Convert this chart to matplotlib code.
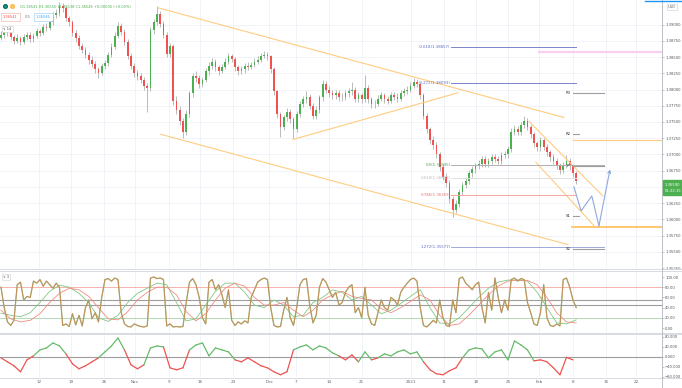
import numpy as np
import matplotlib
matplotlib.use("Agg")
import matplotlib.pyplot as plt
from matplotlib.lines import Line2D
from matplotlib.patches import Rectangle

plt.rcParams['font.family'] = ['DejaVu Sans']

# ---------------- data ----------------
date_ticks = [11.7, 21.5, 31.7, 41.2, 51.7, 61.2, 71.4, 82.5, 90.8, 100.9, 111.0,
              126.2, 136.3, 146.2, 156.0, 165.5, 176.0, 186.2, 195.4]
date_labels = ["12", "19", "26", "Nov", "9", "16", "23", "Dec", "7", "14", "21",
               "2021", "11", "18", "25", "Feb", "8", "15", "22"]

price_ticks = [1.39000, 1.38750, 1.38500, 1.38250, 1.38000, 1.37750, 1.37500, 1.37250,
               1.37000, 1.36750, 1.36500, 1.36250, 1.36000, 1.35750, 1.35500, 1.35250]

open0 = 13880
close_pips = [13884, 13892, 13887, 13881, 13875, 13880, 13874, 13881, 13884, 13878,
              13883, 13890, 13887, 13897, 13895, 13904, 13915, 13918, 13929, 13926,
              13910, 13904, 13887, 13880, 13867, 13861, 13854, 13846, 13840, 13831,
              13826, 13837, 13841, 13854, 13866, 13883, 13898, 13889, 13874, 13852,
              13837, 13826, 13821, 13815, 13806, 13803, 13892, 13904, 13917, 13901,
              13884, 13855, 13867, 13782, 13769, 13751, 13735, 13763, 13794, 13821,
              13818, 13809, 13815, 13828, 13837, 13843, 13834, 13829, 13835, 13843,
              13851, 13847, 13834, 13828, 13831, 13837, 13835, 13838, 13843, 13846,
              13852, 13854, 13851, 13831, 13797, 13762, 13742, 13757, 13766, 13754,
              13739, 13763, 13778, 13785, 13789, 13775, 13760, 13769, 13788, 13809,
              13800, 13794, 13791, 13795, 13788, 13789, 13794, 13797, 13800, 13786,
              13791, 13785, 13803, 13785, 13778, 13778, 13786, 13791, 13785, 13783,
              13791, 13789, 13786, 13794, 13797, 13800, 13806, 13812, 13809, 13791,
              13760, 13739, 13723, 13714, 13700, 13680, 13666, 13656, 13631, 13614,
              13624, 13642, 13653, 13659, 13671, 13677, 13682, 13686, 13693, 13685,
              13690, 13696, 13693, 13690, 13699, 13700, 13708, 13735, 13739, 13735,
              13745, 13752, 13742, 13731, 13717, 13711, 13722, 13712, 13703, 13696,
              13690, 13683, 13676, 13683, 13690, 13682, 13671, 13659]
high_pips = [13890, 13897, 13896, 13890, 13884, 13885, 13883, 13886, 13889, 13888,
             13887, 13895, 13894, 13901, 13902, 13909, 13919, 13924, 13935, 13933,
             13929, 13914, 13907, 13891, 13884, 13871, 13866, 13858, 13851, 13844,
             13835, 13841, 13846, 13858, 13871, 13888, 13904, 13902, 13893, 13878,
             13856, 13841, 13830, 13825, 13819, 13810, 13896, 13909, 13929, 13921,
             13905, 13888, 13872, 13870, 13790, 13774, 13756, 13768, 13798, 13826,
             13828, 13822, 13820, 13833, 13842, 13849, 13847, 13838, 13840, 13848,
             13857, 13855, 13850, 13838, 13836, 13841, 13842, 13843, 13848, 13851,
             13857, 13859, 13858, 13853, 13834, 13800, 13766, 13761, 13772, 13770,
             13758, 13767, 13783, 13790, 13797, 13793, 13779, 13774, 13792, 13815,
             13813, 13805, 13799, 13800, 13799, 13794, 13799, 13802, 13812, 13804,
             13796, 13795, 13823, 13807, 13789, 13784, 13791, 13796, 13795, 13790,
             13796, 13796, 13794, 13799, 13802, 13805, 13811, 13818, 13816, 13812,
             13794, 13764, 13743, 13728, 13719, 13704, 13686, 13672, 13660, 13636,
             13630, 13647, 13658, 13665, 13676, 13682, 13687, 13692, 13698, 13697,
             13695, 13701, 13700, 13698, 13704, 13705, 13713, 13740, 13745, 13744,
             13750, 13759, 13756, 13746, 13735, 13721, 13727, 13726, 13716, 13707,
             13700, 13694, 13687, 13688, 13699, 13694, 13686, 13675]
low_pips = [13876, 13880, 13883, 13876, 13870, 13871, 13868, 13870, 13877, 13873,
            13874, 13880, 13882, 13884, 13890, 13891, 13900, 13910, 13914, 13920,
            13905, 13898, 13882, 13874, 13862, 13856, 13849, 13840, 13835, 13826,
            13818, 13822, 13832, 13837, 13850, 13862, 13879, 13884, 13869, 13847,
            13832, 13820, 13815, 13810, 13800, 13765, 13798, 13886, 13899, 13896,
            13879, 13850, 13850, 13776, 13763, 13745, 13726, 13730, 13758, 13789,
            13812, 13803, 13804, 13811, 13823, 13832, 13829, 13823, 13825, 13831,
            13839, 13842, 13829, 13822, 13824, 13826, 13830, 13831, 13834, 13839,
            13842, 13848, 13846, 13826, 13792, 13756, 13727, 13738, 13752, 13749,
            13726, 13734, 13758, 13773, 13780, 13770, 13755, 13755, 13764, 13783,
            13795, 13789, 13785, 13786, 13783, 13783, 13784, 13789, 13792, 13781,
            13781, 13779, 13781, 13780, 13772, 13772, 13774, 13782, 13780, 13778,
            13779, 13784, 13781, 13782, 13790, 13793, 13796, 13802, 13804, 13786,
            13755, 13733, 13716, 13708, 13694, 13674, 13660, 13650, 13625, 13604,
            13609, 13619, 13637, 13648, 13654, 13666, 13672, 13677, 13681, 13680,
            13680, 13685, 13688, 13685, 13686, 13694, 13695, 13704, 13730, 13730,
            13730, 13740, 13737, 13726, 13712, 13705, 13706, 13707, 13698, 13690,
            13685, 13677, 13670, 13671, 13679, 13676, 13665, 13654]

stoch_fast = [80, 40, 12, 5, 15, 85, 90, 55, 62, 60,
              92, 88, 95, 82, 92, 85, 78, 88, 80, 5,
              8, 3, 28, 6, 25, 4, 40, 55, 18, 30,
              12, 60, 95, 97, 92, 98, 95, 30, 8, 3,
              2, 8, 5, 3, 2, 4, 98, 100, 97, 98,
              95, 4, 8, 2, 3, 2, 3, 50, 90, 97,
              85, 60, 20, 8, 90, 95, 75, 85, 65, 40,
              75, 15, 5, 12, 8, 14, 10, 60, 75, 90,
              95, 98, 95, 40, 5, 2, 3, 35, 60, 20,
              5, 40, 85, 95, 97, 45, 10, 25, 80, 97,
              90, 75, 60, 70, 45, 50, 70, 80, 85, 30,
              40, 20, 80, 25, 8, 5, 30, 55, 40, 35,
              60, 55, 45, 70, 80, 88, 95, 98, 92, 40,
              5, 2, 8, 15, 10, 55, 20, 5, 3, 55,
              30, 97, 100, 88, 82, 75, 85, 90, 40, 10,
              70, 35, 98, 60, 30, 55, 35, 95, 98, 92,
              97, 95, 50, 30, 8, 5, 30, 85, 20, 5,
              3, 8, 4, 95, 98, 80, 55, 40]
slow_green = [29, 25, 22, 30, 50, 72, 84, 80, 68, 50,
              20, 13, 25, 50, 68, 78, 88, 85, 50, 14,
              18, 45, 72, 88, 88, 70, 45, 40, 55, 45,
              22, 25, 50, 60, 75, 70, 55, 62, 45, 28,
              35, 48, 62, 75, 40, 10, 8, 20, 40, 60,
              78, 90, 94, 94, 92, 70, 40, 10, 8, 16]
slow_red = [35, 18, 12, 15, 28, 50, 68, 78, 75, 62,
            40, 18, 16, 32, 55, 70, 80, 80, 65, 32,
            14, 28, 55, 78, 88, 82, 60, 45, 45, 50,
            35, 22, 35, 55, 65, 72, 62, 58, 55, 38,
            30, 40, 52, 65, 55, 25, 5, 8, 25, 45,
            65, 82, 92, 94, 93, 85, 60, 30, 12, 10]
momentum = [-4, -20, -36, -60, -12, 4, 28, 36, 56, 44,
            12, -28, -48, -36, -20, -4, 20, 44, 76, 28,
            -32, -48, -32, 36, 44, 40, -44, -52, -44, 28,
            48, 56, 4, 36, 28, 20, -12, -20, -4, -20,
            -36, -44, -60, -72, -60, 28, 40, 48, 28, 44,
            36, 16, 4, -12, 8, -20, 20, -12, -4, 12,
            4, 20, 28, 12, 20, -20, -52, -68, -72, -56,
            -44, -4, 28, 36, 32, -4, 20, 28, -12, 64,
            48, 28, -16, -12, -20, -44, -72, -2, -12]

# drawings (bar index, pips)
orange_lines = [((48.3, 13926), (173.2, 13757)),
                ((49.2, 13731), (174.5, 13561)),
                ((89.8, 13723), (140.6, 13795)),
                ((162.5, 13751), (185.2, 13636)),
                ((164.6, 13688), (182.5, 13590))]
orange_levels = [13723, 13588]
forecast = [(176.3, 13650), (178.5, 13613), (181.8, 13636), (184.0, 13590), (187.4, 13677)]
fib_zero, fib_one = 13765, 13602
fib_levels = [-0.618, -0.272, 0.5, 0.618, 0.786, 1.272]
fib_colors = ["#5c6bc0", "#5c6bc0", "#43a047", "#bdbdbd", "#e57373", "#5c6bc0"]
fib_line_colors = ["#7986cb", "#7986cb", "#b0b0b0", "#e0e0e0", "#f4a6a0", "#9fa8da"]
fib_ends = [176.9, 176.9, 185.5, 176.9, 176.9, 185.5]
pivot_names = ["R3", "R2", "P", "S1", "S2"]
pivot_pips = [13795, 13731, 13682, 13605, 13555]
pivot_ends = [185.5, 178.0, 185.5, 178.0, 185.5]
pink_level = 13858

# ---------------- figure ----------------
W, H = 682.0, 388.0
fig = plt.figure(figsize=(W / 100, H / 100), dpi=100)
fig.patch.set_facecolor("white")

def mk(top, bot):
    a = fig.add_axes([0, 1 - bot / H, 662 / W, (bot - top) / H])
    for s in a.spines.values():
        s.set_visible(False)
    a.set_xlim(-0.3, 203.4)
    a.set_xticks(date_ticks)
    a.grid(axis='x', color='#eef1f6', lw=0.6)
    a.set_facecolor('white')
    a.tick_params(left=False, bottom=False, labelleft=False, labelbottom=False,
                  right=True, labelright=True, length=1.2, width=0.4, color='#999999',
                  labelsize=2.7, labelcolor='#555555', pad=1.0)
    a.yaxis.tick_right()
    return a

ax = mk(0, 268)
axo = mk(271, 333)
axl = mk(335, 377)

# ---- main price panel ----
ax.set_ylim(1.35269, 1.39380)
ax.set_yticks(price_ticks)
ax.set_yticklabels(["%.5f" % p for p in price_ticks])
ax.grid(axis='y', color='#eef1f6', lw=0.6)

closes = np.array(close_pips) / 1e4
highs = np.array(high_pips) / 1e4
lows = np.array(low_pips) / 1e4
opens = np.concatenate([[open0 / 1e4], closes[:-1]])
idx = np.arange(len(closes))
up = closes >= opens
ax.vlines(idx, lows, highs, color='#a8a8a8', lw=0.55, zorder=2)
body = np.where(np.abs(closes - opens) < 0.00002, 0.00002, closes - opens)
ax.bar(idx[up], body[up], bottom=opens[up], width=0.5, color='#4caf50', lw=0, zorder=3)
ax.bar(idx[~up], body[~up], bottom=opens[~up], width=0.5, color='#ef5350', lw=0, zorder=3)

for (x0, p0), (x1, p1) in orange_lines:
    ax.plot([x0, x1], [p0 / 1e4, p1 / 1e4], color='#ffcc80', lw=0.8, zorder=4)
ax.plot([176.0, 203.4], [orange_levels[0] / 1e4] * 2, color='#ffcc80', lw=0.8, zorder=4)
ax.plot([175.7, 203.4], [orange_levels[1] / 1e4] * 2, color='#ffb74d', lw=1.1, zorder=4)
ax.plot([165.5, 203.4], [pink_level / 1e4] * 2, color='#f8d0f2', lw=1.6, zorder=4)

for lvl, tc, lc, xe in zip(fib_levels, fib_colors, fib_line_colors, fib_ends):
    p = (fib_zero + lvl * (fib_one - fib_zero)) / 1e4
    ax.plot([138.5, xe], [p, p], color=lc, lw=0.7, zorder=4)
    ax.text(138.3, p, "%g(%.5f)" % (lvl, p), fontsize=2.8, color=tc,
            ha='right', va='center', zorder=5)

for name, pp, xe in zip(pivot_names, pivot_pips, pivot_ends):
    ax.plot([176.0, xe], [pp / 1e4] * 2, color='#9e9e9e', lw=0.8, zorder=4)
    ax.text(174.4, pp / 1e4, name, fontsize=2.8, color='#333333', ha='center',
            va='center', zorder=5)

fx = [p[0] for p in forecast]
fp = [p[1] / 1e4 for p in forecast]
ax.plot(fx[:-1], fp[:-1], color='#8fa8dc', lw=0.8, zorder=5)
ax.annotate("", xy=(fx[-1], fp[-1]), xytext=(fx[-2], fp[-2]),
            arrowprops=dict(arrowstyle='->', color='#8fa8dc', lw=0.8,
                            shrinkA=0, shrinkB=0, mutation_scale=5), zorder=5)

# ---- oscillator panel ----
axo.set_ylim(-9.8, 111.8)
axo.set_yticks([0, 20, 40, 60, 80, 100])
axo.set_yticklabels(["0.00", "20.00", "40.00", "60.00", "80.00", "100.00"])
axo.axhline(80, color='#f4a6a0', lw=0.6)
axo.axhline(20, color='#a5d6a7', lw=0.6)
axo.axhline(54, color='#9e9e9e', lw=0.8)
axo.axhline(46, color='#9e9e9e', lw=0.8)
sx = np.arange(len(slow_green)) * 3
axo.plot(sx, slow_green, color='#81c784', lw=0.6)
axo.plot(sx, slow_red, color='#f28b82', lw=0.6)
axo.plot(np.arange(len(stoch_fast)), stoch_fast, color='#8fbf6a', lw=0.9)
axo.plot(np.arange(len(stoch_fast)), stoch_fast, color='#e0795a', lw=0.7, alpha=0.7)

# ---- momentum panel ----
axl.set_ylim(-81, 88)
axl.set_yticks([-80, -40, 0, 40, 80])
axl.set_yticklabels(["\u221280.000", "\u221240.000", "0.000", "40.000", "80.000"])
axl.axhline(0, color='#9e9e9e', lw=0.8)
mx = np.arange(len(momentum)) * 2
for k in range(len(momentum) - 1):
    m = (momentum[k] + momentum[k + 1]) / 2
    axl.plot(mx[k:k + 2], momentum[k:k + 2], color='#66bb6a' if m >= 0 else '#ef5350',
             lw=0.9, solid_capstyle='round')
axl.set_xticks(date_ticks)
axl.set_xticklabels(date_labels)
axl.tick_params(axis='x', labelbottom=True, labelsize=3.0, labelcolor='#666666', pad=2,
                length=0)

# ---- frame lines ----
for yy in (269.3, 270.8, 333.2, 334.4, 377.5):
    fig.add_artist(Line2D([0, 1], [1 - yy / H] * 2, color='#d1d4dc', lw=0.6))
fig.add_artist(Line2D([662 / W] * 2, [0, 1], color='#b2b5be', lw=0.6))
fig.add_artist(Line2D([645 / W, 1], [1 - 0.8 / H] * 2, color='#2196f3', lw=1.0))

# ---- header / legend ----
fig.add_artist(Line2D([5 / W], [1 - 6 / H], marker='o', ms=2.6, color='#26a69a', mec='#00695c'))
fig.add_artist(Line2D([12 / W], [1 - 6 / H], marker='o', ms=2.6, color='#ffcc80', mec='#ffb74d'))
fig.text(20 / W, 1 - 6.5 / H, "O1.36541 H1.36550 L1.36538 C1.36546 +0.00005 (+0.00%)",
         fontsize=2.6, color='#4caf50', va='center')
fig.text(3 / W, 1 - 17 / H, "1.36541", fontsize=2.6, color='#ef5350', va='center',
         bbox=dict(boxstyle='square,pad=0.5', fc='white', ec='#f4a6a0', lw=0.4))
fig.text(25 / W, 1 - 17 / H, "0.5", fontsize=2.6, color='#777777', va='center')
fig.text(36 / W, 1 - 17 / H, "1.36546", fontsize=2.6, color='#42a5f5', va='center',
         bbox=dict(boxstyle='square,pad=0.5', fc='white', ec='#90caf9', lw=0.4))
fig.text(3 / W, 1 - 29 / H, "\u2228 14", fontsize=2.6, color='#555555', va='center',
         bbox=dict(boxstyle='square,pad=0.4', fc='white', ec='#d0d0d0', lw=0.4))
fig.text(3 / W, 1 - 277 / H, "\u2228 3", fontsize=2.6, color='#555555', va='center',
         bbox=dict(boxstyle='square,pad=0.4', fc='white', ec='#d0d0d0', lw=0.4))
fig.text(668 / W, 1 - 7 / H, "USD", fontsize=2.6, color='#666666', va='center',
         bbox=dict(boxstyle='square,pad=0.4', fc='white', ec='#cccccc', lw=0.4))

# current price box
fig.add_artist(Rectangle((662.5 / W, 1 - 195 / H), 19.5 / W, 15 / H,
                         transform=fig.transFigure, color='#4caf50', zorder=10))
fig.text(664.3 / W, 1 - 184.5 / H, "%.5f" % closes[-1], fontsize=2.7, color='white',
         va='center', zorder=11)
fig.text(664.3 / W, 1 - 191 / H, "01:22:15", fontsize=2.7, color='white', va='center',
         zorder=11)

fig.savefig("out.png", dpi=100, facecolor='white')
